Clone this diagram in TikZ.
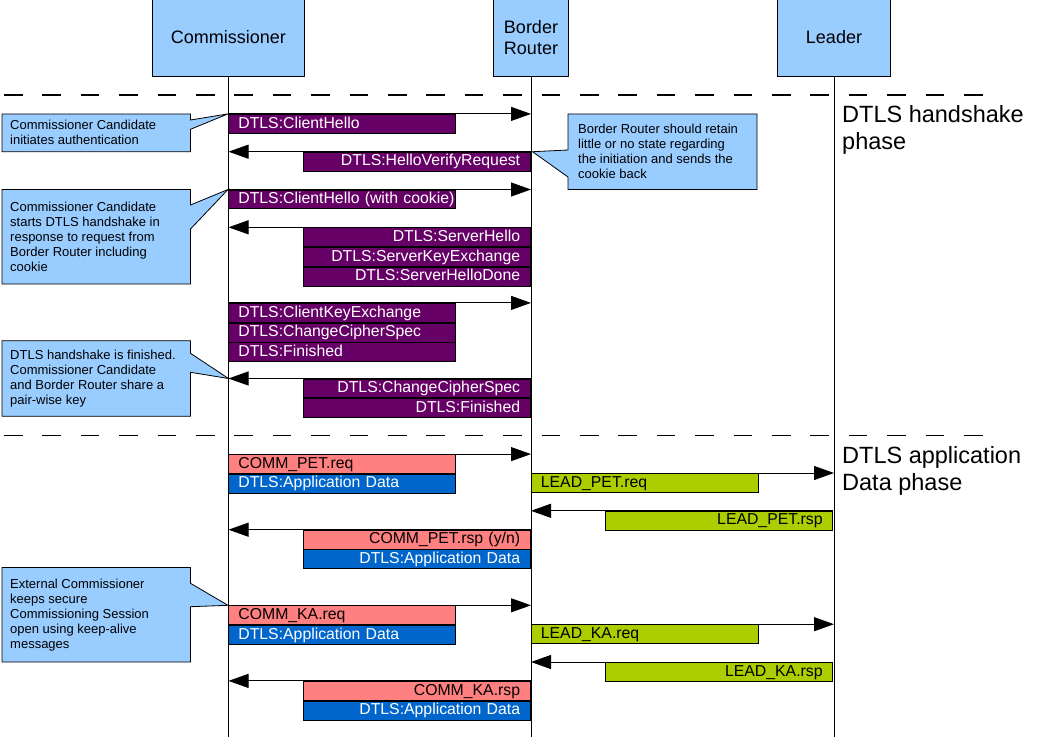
\documentclass[tikz,border=0pt]{standalone}
\usepackage{fontspec}
\setmainfont{Liberation Sans}
\usetikzlibrary{arrows.meta}
\definecolor{boxblue}{HTML}{99CCFF}
\definecolor{dtlspurple}{HTML}{660066}
\definecolor{salmonred}{HTML}{FF8080}
\definecolor{appblue}{HTML}{0066CC}
\definecolor{leadgreen}{HTML}{ACCD00}
\begin{document}
\begin{tikzpicture}[x=1pt,y=-1pt,
 hdr/.style={draw=black, line width=1pt, fill=boxblue, anchor=north west, minimum height=78pt, inner sep=0pt, align=center, font=\fontsize{18}{21}\selectfont},
 life/.style={line width=1pt},
 bar/.style={draw=black, line width=0.8pt, minimum height=18.9pt, inner xsep=10pt, inner ysep=0pt, text width=207pt, text height=11.5pt, text depth=3pt, font=\fontsize{15.8}{19}\selectfont},
 lbar/.style={bar, anchor=north west, align=left},
 rbar/.style={bar, anchor=north east, align=right},
 dtlsfill/.style={fill=dtlspurple, text=white},
 commfill/.style={fill=salmonred, text=black},
 appfill/.style={fill=appblue, text=white},
 leadfill/.style={fill=leadgreen, text=black},
 msg/.style={line width=1pt, -{Triangle[length=20pt,width=14pt]}},
 callout/.style={draw=black, line width=0.8pt, fill=boxblue, line join=miter},
 ctext/.style={anchor=west, align=left, inner sep=0pt, font=\fontsize{13}{15}\selectfont},
 phase/.style={anchor=north west, align=left, inner sep=0pt, font=\fontsize{23.5}{27}\selectfont},
 phaseline/.style={line width=1.2pt, dash pattern=on 18.5pt off 19.9pt}
]
\useasboundingbox (0,0) rectangle (1037,737);
\fill[white] (0,0) rectangle (1037,737);
\coordinate (bot) at (0,737);
\coordinate (d1l) at (4,95);
\coordinate (d1r) at (983,95);
\coordinate (d2l) at (4,435.2);
\coordinate (d2r) at (983,435.2);

% phase separators
\draw[phaseline] (d1l) -- (d1r);
\draw[phaseline] (d2l) -- (d2r);

% header boxes
\node[hdr, minimum width=152pt] (ncomm) at (152,-2) {Commissioner};
\node[hdr, minimum width=75pt] (nbr) at (493,-2) {Border\\Router};
\node[hdr, minimum width=113pt] (nlead) at (777,-2) {Leader};

% lifelines
\draw[life] (ncomm.south) -- (ncomm.south |- bot);
\draw[life] (nbr.south) -- (nbr.south |- bot);
\draw[life] (nlead.south) -- (nlead.south |- bot);

% phase labels
\node[phase] (ph1) at (842,105) {DTLS handshake\\phase};
\node[phase] (ph2) at (842,446) {DTLS application\\Data phase};

% handshake messages
\node[lbar, dtlsfill] (m1) at (228,113.9) {DTLS:ClientHello};
\node[rbar, dtlsfill] (m2) at (530.5,151.7) {DTLS:HelloVerifyRequest};
\node[lbar, dtlsfill] (m3) at (228,189.5) {\mbox{DTLS:ClientHello (with cookie)}};
\node[rbar, dtlsfill] (m4a) at (530.5,227.3) {DTLS:ServerHello};
\node[rbar, dtlsfill] (m4b) at (m4a.south east) {DTLS:ServerKeyExchange};
\node[rbar, dtlsfill] (m4c) at (m4b.south east) {DTLS:ServerHelloDone};
\node[lbar, dtlsfill] (m5a) at (228,302.9) {DTLS:ClientKeyExchange};
\node[lbar, dtlsfill] (m5b) at (m5a.south west) {DTLS:ChangeCipherSpec};
\node[lbar, dtlsfill] (m5c) at (m5b.south west) {DTLS:Finished};
\node[rbar, dtlsfill] (m6a) at (530.5,378.5) {DTLS:ChangeCipherSpec};
\node[rbar, dtlsfill] (m6b) at (m6a.south east) {DTLS:Finished};

% application messages
\node[lbar, commfill] (m7a) at (228,454.1) {COMM\_PET.req};
\node[lbar, appfill] (m7b) at (m7a.south west) {DTLS:Application Data};
\node[lbar, leadfill] (m8) at (530.5,473) {LEAD\_PET.req};
\node[rbar, leadfill] (m9) at (833,510.8) {LEAD\_PET.rsp};
\node[rbar, commfill] (m10a) at (530.5,529.7) {COMM\_PET.rsp (y/n)};
\node[rbar, appfill] (m10b) at (m10a.south east) {DTLS:Application Data};
\node[lbar, commfill] (m11a) at (228,605.3) {COMM\_KA.req};
\node[lbar, appfill] (m11b) at (m11a.south west) {DTLS:Application Data};
\node[lbar, leadfill] (m12) at (530.5,624.2) {LEAD\_KA.req};
\node[rbar, leadfill] (m13) at (833,662) {LEAD\_KA.rsp};
\node[rbar, commfill] (m14a) at (530.5,680.9) {COMM\_KA.rsp};
\node[rbar, appfill] (m14b) at (m14a.south east) {DTLS:Application Data};

% arrows
\draw[msg] (m1.north west) -- (m1.north west -| nbr.south);
\draw[msg] (m2.north east) -- (m2.north east -| ncomm.south);
\draw[msg] (m3.north west) -- (m3.north west -| nbr.south);
\draw[msg] (m4a.north east) -- (m4a.north east -| ncomm.south);
\draw[msg] (m5a.north west) -- (m5a.north west -| nbr.south);
\draw[msg] (m6a.north east) -- (m6a.north east -| ncomm.south);
\draw[msg] (m7a.north west) -- (m7a.north west -| nbr.south);
\draw[msg] (m8.north west) -- (m8.north west -| nlead.south);
\draw[msg] (m9.north east) -- (m9.north east -| nbr.south);
\draw[msg] (m10a.north east) -- (m10a.north east -| ncomm.south);
\draw[msg] (m11a.north west) -- (m11a.north west -| nbr.south);
\draw[msg] (m12.north west) -- (m12.north west -| nlead.south);
\draw[msg] (m13.north east) -- (m13.north east -| nbr.south);
\draw[msg] (m14a.north east) -- (m14a.north east -| ncomm.south);

% callouts
\draw[callout] (2,113.9) -- (190.5,113.9) -- (190.5,120) -- (m1.north west) -- (190.5,129.3) -- (190.5,151.7) -- (2,151.7) -- cycle;
\node[ctext] (c1) at (10,132.8) {Commissioner Candidate\\initiates authentication};

\draw[callout] (2,189.5) -- (190.5,189.5) -- (190.5,205) -- (m3.north west) -- (190.5,229) -- (190.5,284) -- (2,284) -- cycle;
\node[ctext] (c2) at (10,236.75) {Commissioner Candidate\\starts DTLS handshake in\\response to request from\\Border Router including\\cookie};

\coordinate (t3) at (m6a.north east -| ncomm.south);
\draw[callout] (2,340.7) -- (190.5,340.7) -- (190.5,353.3) -- (t3) -- (190.5,372.3) -- (190.5,416.3) -- (2,416.3) -- cycle;
\node[ctext] (c3) at (10,378.5) {DTLS handshake is finished.\\Commissioner Candidate\\and Border Router share a\\pair-wise key};

\draw[callout] (2,567.5) -- (190.5,567.5) -- (190.5,583.3) -- (m11a.north west) -- (190.5,606.7) -- (190.5,662) -- (2,662) -- cycle;
\node[ctext] (c4) at (10,614.75) {External Commissioner\\keeps secure\\Commissioning Session\\open using keep-alive\\messages};

\coordinate (t5) at (532.5,151.7);
\draw[callout] (568,113.9) -- (757,113.9) -- (757,189.5) -- (568,189.5) -- (568,177) -- (t5) -- (568,150) -- cycle;
\node[ctext] (c5) at (578,151.7) {Border Router should retain\\little or no state regarding\\the initiation and sends the\\cookie back};
\end{tikzpicture}
\end{document}
